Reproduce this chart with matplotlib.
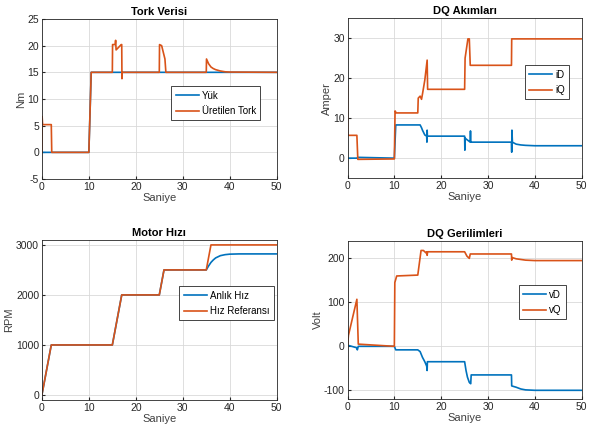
import matplotlib
matplotlib.use("Agg")
import matplotlib.pyplot as plt

plt.rcParams['font.family'] = ['Liberation Sans', 'DejaVu Sans']
plt.rcParams['axes.unicode_minus'] = False

# MATLAB default colours
blue = '#0072BD'
orange = '#D95319'

# Tork Verisi
tork_yuk_t = [0, 10, 10.5, 50]
tork_yuk = [0, 0, 15, 15]
tork_uret_t = [0, 0.05, 0.15, 2.0, 2.1, 10, 10.5, 15, 15.05, 15.6, 15.7, 15.8, 16.9, 17.0, 17.05,
               17.1, 25, 25.05, 25.5, 26.2, 26.4, 35, 35.05, 35.5, 36, 36.5, 37, 38, 39, 40, 50]
tork_uret = [0, 6.7, 5.2, 5.2, 0, 0, 15, 15, 20.2, 20.2, 21.0, 19.2, 20.2, 20.2, 13.8,
             15, 15, 20.2, 20.0, 17.5, 15, 15, 17.5, 16.6, 16.0, 15.7, 15.5, 15.25, 15.1, 15.05, 15]

# DQ Akimlari
id_t = [0, 2.0, 2.2, 10, 10.3, 15.5, 15.8, 16.0, 16.5, 16.9, 16.95, 17.0, 17.05, 25, 25.05, 25.1,
        25.3, 26.2, 26.25, 26.3, 26.5, 35, 35.05, 35.1, 35.2, 35.5, 36, 37, 38, 40, 50]
id_vals = [0, 0, 0.2, 0, 8.3, 8.3, 7.6, 7.0, 5.8, 5.5, 4.0, 7.0, 5.5, 5.5, 2.0, 5.0,
           4.8, 4.0, 6.8, 4.0, 4.0, 4.0, 1.5, 7.0, 4.0, 3.8, 3.5, 3.3, 3.2, 3.1, 3.1]
iq_t = [0, 0.05, 0.15, 2.0, 2.2, 10, 10.15, 10.4, 15, 15.1, 15.5, 15.8, 16.0, 16.5, 17.0, 17.1,
        25, 25.1, 25.7, 26.0, 26.2, 35, 35.05, 50]
iq_vals = [18, 5.7, 5.7, 5.7, -0.3, -0.2, 11.8, 11.3, 11.3, 15.0, 15.5, 14.7, 16.0, 19.5, 24.5, 17.2,
           17.2, 25.0, 29.8, 29.8, 23.2, 23.2, 29.8, 29.8]

# Motor Hizi
ref_t = [0, 2, 15, 17, 25, 26, 35, 36, 50]
ref_rpm = [0, 1000, 1000, 2000, 2000, 2500, 2500, 3000, 3000]
hiz_t = [0, 2, 15, 17, 25, 26, 35, 35.5, 36, 36.5, 37, 38, 39, 40, 42, 50]
hiz_rpm = [0, 1000, 1000, 2000, 2000, 2500, 2500, 2580, 2650, 2700, 2740, 2785, 2805, 2815, 2820, 2820]

# DQ Gerilimleri
vd_t = [0, 0.2, 1.9, 2.0, 2.1, 2.3, 10, 10.3, 15, 15.5, 16.0, 16.5, 16.9, 17.0, 17.05,
        25, 25.3, 25.6, 26.0, 26.3, 26.4, 35, 35.05, 36, 37, 38, 40, 50]
vd_vals = [2, 2, -3, -5, -8, 0, 0, -8, -8, -12, -25, -35, -45, -55, -35,
           -35, -55, -70, -82, -85, -65, -65, -90, -93, -97, -99, -100, -100]
vq_t = [0, 0.2, 2.0, 2.3, 10, 10.1, 10.5, 15, 15.7, 16.2, 16.8, 16.9, 17.0, 17.1,
        25, 25.5, 26.0, 26.2, 35, 35.05, 35.1, 36, 38, 40, 50]
vq_vals = [0, 25, 107, 5, 0, 145, 160, 162, 218, 218, 212, 215, 207, 215,
           215, 205, 200, 210, 210, 196, 202, 199, 196, 195, 195]

fig = plt.figure(figsize=(5.9, 4.41), dpi=100)
ax1 = fig.add_axes([0.071, 0.594, 0.398, 0.363])
ax2 = fig.add_axes([0.589, 0.596, 0.397, 0.363])
ax3 = fig.add_axes([0.071, 0.093, 0.398, 0.363])
ax4 = fig.add_axes([0.589, 0.095, 0.397, 0.359])


def style(ax, title, ylabel, ylim, yticks):
    ax.set_title(title, fontsize=8, fontweight='bold', pad=3)
    ax.set_xlabel('Saniye', fontsize=8, labelpad=1, color='#404040')
    ax.set_ylabel(ylabel, fontsize=8, labelpad=1, color='#404040')
    ax.set_xlim(0, 50)
    ax.set_ylim(*ylim)
    ax.set_xticks([0, 10, 20, 30, 40, 50])
    ax.set_yticks(yticks)
    ax.grid(True, color='#d9d9d9', linewidth=0.6)
    ax.set_axisbelow(True)
    ax.tick_params(direction='in', length=2, labelsize=7.5, colors='#262626', pad=2)
    for s in ax.spines.values():
        s.set_color('#262626')
        s.set_linewidth(0.6)


def leg(ax, anchor):
    lg = ax.legend(loc='upper left', bbox_to_anchor=anchor, fontsize=7, fancybox=False,
                   edgecolor='#262626', framealpha=1, handlelength=2.4, borderpad=0.45,
                   labelspacing=0.55, handletextpad=0.3)
    lg.get_frame().set_linewidth(0.6)


ax1.plot(tork_yuk_t, tork_yuk, color=blue, lw=1.2, label='Yük')
ax1.plot(tork_uret_t, tork_uret, color=orange, lw=1.2, label='Üretilen Tork')
style(ax1, 'Tork Verisi', 'Nm', (-5, 25), [-5, 0, 5, 10, 15, 20, 25])
leg(ax1, (0.53, 0.61))

ax2.plot(id_t, id_vals, color=blue, lw=1.2, label='iD')
ax2.plot(iq_t, iq_vals, color=orange, lw=1.2, label='iQ')
style(ax2, 'DQ Akımları', 'Amper', (-5, 35), [0, 10, 20, 30])
leg(ax2, (0.735, 0.735))

ax3.plot(hiz_t, hiz_rpm, color=blue, lw=1.2, label='Anlık Hız')
ax3.plot(ref_t, ref_rpm, color=orange, lw=1.2, label='Hız Referansı')
style(ax3, 'Motor Hızı', 'RPM', (-100, 3100), [0, 1000, 2000, 3000])
leg(ax3, (0.565, 0.74))

ax4.plot(vd_t, vd_vals, color=blue, lw=1.2, label='vD')
ax4.plot(vq_t, vq_vals, color=orange, lw=1.2, label='vQ')
style(ax4, 'DQ Gerilimleri', 'Volt', (-120, 240), [-100, 0, 100, 200])
leg(ax4, (0.71, 0.75))

fig.savefig('out.png', dpi=100)
